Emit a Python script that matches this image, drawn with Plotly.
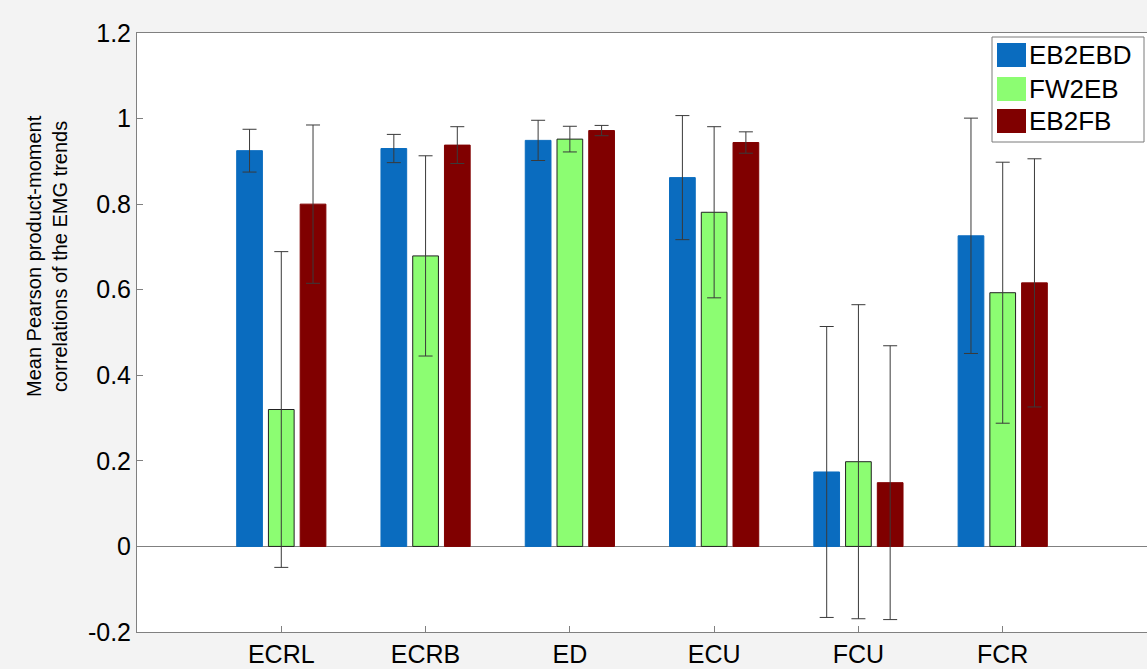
import plotly.graph_objects as go

# Muscles and per-condition mean correlations with their spread
muscles = ["ECRL", "ECRB", "ED", "ECU", "FCU", "FCR"]
series_names = ["EB2EBD", "FW2EB", "EB2FB"]

eb2ebd_mean = [0.925, 0.930, 0.949, 0.862, 0.174, 0.726]
eb2ebd_err = [0.050, 0.033, 0.047, 0.145, 0.340, 0.275]

fw2eb_mean = [0.320, 0.679, 0.952, 0.781, 0.198, 0.593]
fw2eb_err = [0.369, 0.234, 0.030, 0.200, 0.367, 0.305]

eb2fb_mean = [0.800, 0.938, 0.972, 0.944, 0.149, 0.616]
eb2fb_err = [0.185, 0.043, 0.012, 0.025, 0.320, 0.290]

y_ticks = [-0.2, 0, 0.2, 0.4, 0.6, 0.8, 1.0, 1.2]
y_tick_labels = ["-0.2", "0", "0.2", "0.4", "0.6", "0.8", "1", "1.2"]

means = [eb2ebd_mean, fw2eb_mean, eb2fb_mean]
errs = [eb2ebd_err, fw2eb_err, eb2fb_err]
fills = ["#0a6cbf", "#8cfd72", "#800000"]
outlines = ["#0a6cbf", "#222222", "#800000"]

W, H = 1147, 669
M_L, M_T, M_B, M_R = 137, 33, 37, 0
PW, PH = W - M_L - M_R, H - M_T - M_B
FONT = "Liberation Sans, Arial, sans-serif"


def px_x(px):
    return (px - M_L) / PW


def px_y(py):
    return (H - M_B - py) / PH


xpos = list(range(1, len(muscles) + 1))

fig = go.Figure()
for name, m, e, fc, lc in zip(series_names, means, errs, fills, outlines):
    fig.add_trace(go.Bar(
        x=xpos, y=m, name=name,
        marker=dict(color=fc, line=dict(color=lc, width=1)),
        error_y=dict(type="data", array=e, visible=True,
                     color="#3a3a3a", thickness=1, width=7),
        showlegend=False,
    ))

# Legend box drawn in pixel space at the upper right
shapes = [dict(type="rect", xref="paper", yref="paper",
               x0=px_x(992), x1=px_x(1144), y0=px_y(142), y1=px_y(37),
               fillcolor="white", line=dict(color="#7a7a7a", width=1), layer="above")]
annotations = []
row_centers = [55, 89, 121]
for name, fc, lc, cy in zip(series_names, fills, outlines, row_centers):
    shapes.append(dict(type="rect", xref="paper", yref="paper",
                       x0=px_x(997), x1=px_x(1026), y0=px_y(cy + 12), y1=px_y(cy - 12),
                       fillcolor=fc, line=dict(color=fc, width=0), layer="above"))
    annotations.append(dict(xref="paper", yref="paper", x=px_x(1027), y=px_y(cy),
                            xanchor="left", yanchor="middle", showarrow=False,
                            text=name, font=dict(family=FONT, size=26, color="black")))

# Two-line y-axis title
annotations.append(dict(xref="paper", yref="paper", x=px_x(47), y=px_y(256),
                        xanchor="center", yanchor="middle", showarrow=False, textangle=-90,
                        text="Mean Pearson product-moment<br>correlations of the EMG trends",
                        font=dict(family=FONT, size=20, color="black")))

fig.update_layout(
    width=W, height=H,
    margin=dict(l=M_L, r=M_R, t=M_T, b=M_B, pad=0, autoexpand=False),
    paper_bgcolor="#f3f3f3", plot_bgcolor="white",
    barmode="group", bargap=0.34, bargroupgap=0.19,
    font=dict(family=FONT, size=25, color="black"),
    shapes=shapes, annotations=annotations,
    xaxis=dict(range=[0, 7], tickmode="array", tickvals=xpos, ticktext=muscles,
               ticks="inside", ticklen=6, tickcolor="#808080", automargin=False,
               showline=True, linecolor="#808080", linewidth=1, mirror=True,
               showgrid=False, zeroline=False, tickfont=dict(size=25)),
    yaxis=dict(range=[-0.2, 1.2], tickmode="array", tickvals=y_ticks, ticktext=y_tick_labels,
               ticks="inside", ticklen=6, tickcolor="#808080", automargin=False,
               showline=True, linecolor="#808080", linewidth=1, mirror=False,
               showgrid=False, zeroline=True, zerolinecolor="#808080", zerolinewidth=1,
               tickfont=dict(size=25)),
)

# Page styling: no body margin and no scrollbars around the fixed-size figure
page_css = ("html,body{margin:0;padding:0;overflow:hidden;}"
            "::-webkit-scrollbar{width:0;height:0;display:none;}")
post = ("var s=document.createElement('style');s.textContent='" + page_css + "';"
        "document.head.appendChild(s);")

fig.write_html("out.html", config={"displayModeBar": False}, post_script=post)
